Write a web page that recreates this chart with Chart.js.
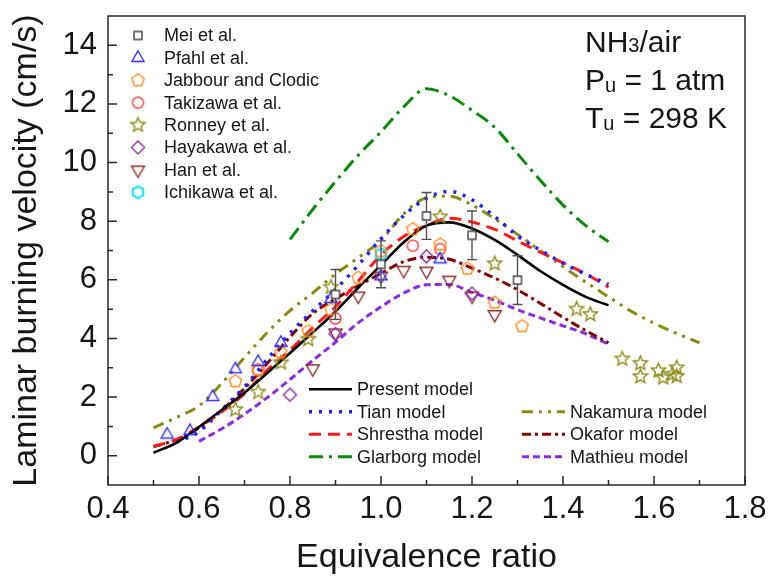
<!DOCTYPE html>
<html>
<head>
<meta charset="utf-8">
<script src="https://cdn.jsdelivr.net/npm/chart.js@4/dist/chart.umd.min.js"></script>
<style>
  html, body { margin: 0; padding: 0; background: #fff; }
  canvas { display: block; }
</style>
</head>
<body>
<canvas id="c" width="771" height="582"></canvas>
<script>
// ---- Model predictions: laminar burning velocity (cm/s) vs equivalence ratio ----
const phiModel = [0.50,0.55,0.60,0.65,0.70,0.75,0.80,0.85,0.90,0.95,1.00,1.05,1.10,1.15,1.20,1.25,1.30,1.35,1.40,1.45,1.50];
const presentModel  = [0.10,0.44,0.98,1.56,2.15,2.82,3.50,4.20,4.92,5.73,6.50,7.28,7.85,7.96,7.75,7.36,6.85,6.30,5.83,5.42,5.13];
const shresthaModel = [0.32,0.55,0.98,1.50,2.12,2.92,3.60,4.37,5.08,5.96,6.85,7.48,7.85,8.10,7.97,7.72,7.33,6.94,6.58,6.20,5.75];
const okaforModel   = [0.30,0.55,0.95,1.55,2.30,3.15,4.05,4.85,5.35,5.80,6.22,6.62,6.77,6.70,6.40,6.06,5.66,5.20,4.72,4.27,3.85];

const phiTian = [0.55,0.60,0.65,0.70,0.75,0.80,0.85,0.90,0.95,1.00,1.05,1.10,1.15,1.20,1.25,1.30,1.35,1.40,1.45,1.50];
const tianModel = [0.45,0.82,1.57,2.35,3.29,4.18,4.94,5.67,6.50,7.40,8.19,8.78,9.02,8.73,8.16,7.50,7.01,6.57,6.19,5.85];

const phiMathieu = [0.60,0.65,0.70,0.75,0.80,0.85,0.90,0.95,1.00,1.05,1.10,1.15,1.20,1.25,1.30,1.35,1.40,1.45,1.50];
const mathieuModel = [0.49,0.92,1.42,1.98,2.60,3.25,3.87,4.53,5.08,5.55,5.83,5.84,5.57,5.30,4.98,4.70,4.43,4.16,3.80];

const phiGlarborg = [0.80,0.85,0.90,0.95,1.00,1.05,1.10,1.15,1.20,1.25,1.30,1.35,1.40,1.45,1.50];
const glarborgModel = [7.38,8.40,9.35,10.25,11.05,11.90,12.52,12.28,11.78,11.20,10.30,9.40,8.55,7.85,7.30];

const phiNakamura = [0.50,0.55,0.60,0.65,0.70,0.75,0.80,0.85,0.90,0.95,1.00,1.05,1.10,1.15,1.20,1.25,1.30,1.35,1.40,1.45,1.50,1.55,1.60,1.65,1.70];
const nakamuraModel = [0.95,1.30,1.70,2.47,3.35,4.20,4.95,5.55,6.20,6.75,7.35,8.25,8.80,8.85,8.55,8.08,7.55,7.00,6.45,5.92,5.42,4.93,4.52,4.17,3.85];

// ---- Measurements ----
const meiPhi = [0.90,1.00,1.10,1.20,1.30];
const meiV   = [5.50,6.53,8.18,7.52,5.99];
const meiErr = [0.85,0.80,0.80,0.83,0.83];

const pfahlPhi = [0.53,0.58,0.63,0.68,0.73,0.78,0.89,1.00,1.13];
const pfahlV   = [0.72,0.84,2.00,2.95,3.20,3.85,5.35,6.12,6.70];

const jabbourPhi = [0.68,0.73,0.78,0.84,0.89,0.95,1.00,1.07,1.13,1.19,1.25,1.31];
const jabbourV   = [2.54,2.94,3.53,4.25,4.99,6.07,6.98,7.73,7.21,6.38,5.22,4.42];

const takizawaPhi = [0.73,0.90,1.07,1.13];
const takizawaV   = [2.90,4.68,7.16,7.05];

const ronneyPhi = [0.68,0.73,0.78,0.84,0.89,1.13,1.25,1.43,1.46,1.53,1.57,1.57,1.61,1.62,1.65,1.65,1.64];
const ronneyV   = [1.57,2.17,3.17,3.97,5.75,8.15,6.55,5.00,4.82,3.30,3.15,2.70,2.90,2.66,3.00,2.71,2.78];

const hayakawaPhi = [0.80,0.90,1.10,1.20];
const hayakawaV   = [2.08,4.15,6.80,5.53];

const hanPhi = [0.85,0.90,0.95,1.00,1.05,1.10,1.15,1.20,1.25];
const hanV   = [2.97,4.19,5.45,6.13,6.33,6.30,5.99,5.45,4.82];

const ichikawaPhi = [1.00];
const ichikawaV   = [6.87];

// ---- Axis ticks ----
const xTickLabels = [0.4,0.6,0.8,1.0,1.2,1.4,1.6,1.8];
const xMinorTicks = [0.5,0.7,0.9,1.1,1.3,1.5,1.7];
const yTickLabels = [0,2,4,6,8,10,12,14];
const yMinorTicks = [1,3,5,7,9,11,13];

const FONT = '"Liberation Sans", Arial, Helvetica, sans-serif';
const TEXT = '#161616';

function pts(xs, ys) { return xs.map((x, i) => ({ x: x, y: ys[i] })); }

// Open outline marker drawn to a small canvas, used as a point style
function marker(shape, color, r, lw) {
  const pad = Math.ceil(lw) + 1;
  const s = Math.ceil(2 * r + 2 * pad);
  const cv = document.createElement('canvas');
  cv.width = s; cv.height = s;
  const g = cv.getContext('2d');
  const c = s / 2;
  g.strokeStyle = color;
  g.lineWidth = lw;
  g.lineJoin = 'miter';
  g.beginPath();
  const poly = (n, rad, rot) => {
    for (let i = 0; i < n; i++) {
      const a = rot + i * 2 * Math.PI / n;
      const px = c + rad * Math.cos(a), py = c + rad * Math.sin(a);
      if (i) g.lineTo(px, py); else g.moveTo(px, py);
    }
    g.closePath();
  };
  switch (shape) {
    case 'square': g.rect(c - r, c - r, 2 * r, 2 * r); break;
    case 'triangle': poly(3, r, -Math.PI / 2); break;
    case 'triangleDown': poly(3, r, Math.PI / 2); break;
    case 'pentagon': poly(5, r, -Math.PI / 2); break;
    case 'hexagon': poly(6, r, -Math.PI / 2); break;
    case 'diamond': poly(4, r, -Math.PI / 2); break;
    case 'circle': g.arc(c, c, r, 0, 2 * Math.PI); break;
    case 'star':
      for (let i = 0; i < 10; i++) {
        const rad = i % 2 ? r * 0.45 : r;
        const a = -Math.PI / 2 + i * Math.PI / 5;
        const px = c + rad * Math.cos(a), py = c + rad * Math.sin(a);
        if (i) g.lineTo(px, py); else g.moveTo(px, py);
      }
      g.closePath();
      break;
  }
  if (shape === 'square') { g.fillStyle = '#fff'; g.fill(); }
  g.stroke();
  return cv;
}

function measured(label, xs, ys, shape, color, r, lw) {
  return {
    type: 'scatter', label: label, data: pts(xs, ys),
    pointStyle: marker(shape, color, r, lw || 1.4), pointRadius: r,
    borderColor: color, backgroundColor: 'transparent', kind: 'marker'
  };
}

function model(label, xs, ys, color, dash, width) {
  return {
    type: 'line', label: label, data: pts(xs, ys),
    borderColor: color, borderWidth: width || 3, borderDash: dash,
    pointRadius: 0, fill: false, cubicInterpolationMode: 'monotone',
    borderCapStyle: 'butt', kind: 'line'
  };
}

const datasets = [
  measured('Mei et al.', meiPhi, meiV, 'square', '#454545', 4, 1.4),
  measured('Pfahl et al.', pfahlPhi, pfahlV, 'triangle', '#3030ff', 7),
  measured('Jabbour and Clodic', jabbourPhi, jabbourV, 'pentagon', '#ff8a1e', 6.5),
  measured('Takizawa et al.', takizawaPhi, takizawaV, 'circle', '#ff3a3a', 5.5),
  measured('Ronney et al.', ronneyPhi, ronneyV, 'star', '#8c8c1a', 7.5),
  measured('Hayakawa et al.', hayakawaPhi, hayakawaV, 'diamond', '#8e2fa0', 6.5),
  measured('Han et al.', hanPhi, hanV, 'triangleDown', '#8c2b2b', 7.5),
  measured('Ichikawa et al.', ichikawaPhi, ichikawaV, 'hexagon', '#22e2ff', 6, 2.2),
  model('Present model', phiModel, presentModel, '#000000', [], 2.6),
  model('Tian model', phiTian, tianModel, '#1d1dff', [3, 7], 3.5),
  model('Shrestha model', phiModel, shresthaModel, '#ff1a1a', [12, 7], 3),
  model('Glarborg model', phiGlarborg, glarborgModel, '#0a8a0a', [14, 6, 3, 6], 3),
  model('Nakamura model', phiNakamura, nakamuraModel, '#8a8a12', [11, 6, 3, 6, 3, 6], 3),
  model('Okafor model', phiModel, okaforModel, '#800000', [9, 4, 3, 4], 3),
  model('Mathieu model', phiMathieu, mathieuModel, '#8a2be2', [7, 4], 3)
];

// Error bars on the Mei et al. squares
const errorBars = {
  id: 'errorBars',
  afterDatasetsDraw(chart) {
    const { ctx, scales: { x, y } } = chart;
    ctx.save();
    ctx.strokeStyle = '#505050';
    ctx.lineWidth = 1.4;
    ctx.beginPath();
    meiPhi.forEach((p, i) => {
      const px = x.getPixelForValue(p);
      const yc = y.getPixelForValue(meiV[i]);
      const yt = y.getPixelForValue(meiV[i] + meiErr[i]);
      const yb = y.getPixelForValue(meiV[i] - meiErr[i]);
      ctx.moveTo(px, yt); ctx.lineTo(px, yc - 4.5);
      ctx.moveTo(px, yc + 4.5); ctx.lineTo(px, yb);
      ctx.moveTo(px - 5, yt); ctx.lineTo(px + 5, yt);
      ctx.moveTo(px - 5, yb); ctx.lineTo(px + 5, yb);
    });
    ctx.stroke();
    ctx.restore();
  }
};

// Plot frame with inward major and minor tick marks
const frame = {
  id: 'frame',
  afterDraw(chart) {
    const { ctx, chartArea: a, scales: { x, y } } = chart;
    ctx.save();
    ctx.strokeStyle = '#2a2a2a';
    ctx.lineWidth = 1.5;
    ctx.strokeRect(a.left, a.top, a.right - a.left, a.bottom - a.top);
    ctx.beginPath();
    xTickLabels.forEach(v => { const p = x.getPixelForValue(v); ctx.moveTo(p, a.bottom); ctx.lineTo(p, a.bottom - 9); });
    xMinorTicks.forEach(v => { const p = x.getPixelForValue(v); ctx.moveTo(p, a.bottom); ctx.lineTo(p, a.bottom - 5); });
    yTickLabels.forEach(v => { const p = y.getPixelForValue(v); ctx.moveTo(a.left, p); ctx.lineTo(a.left + 9, p); });
    yMinorTicks.forEach(v => { const p = y.getPixelForValue(v); ctx.moveTo(a.left, p); ctx.lineTo(a.left + 5, p); });
    ctx.stroke();
    ctx.restore();
  }
};

// Two legends: measurement symbols (upper left) and model line styles (lower middle)
const legends = {
  id: 'legends',
  afterDraw(chart) {
    const ctx = chart.ctx;
    const ds = chart.data.datasets;
    ctx.save();
    ctx.font = '18px ' + FONT;
    ctx.fillStyle = TEXT;
    ctx.textBaseline = 'middle';
    ctx.textAlign = 'left';
    const marks = ds.filter(d => d.kind === 'marker');
    marks.forEach((d, i) => {
      const cy = 35.5 + i * 22.4;
      const img = d.pointStyle;
      ctx.drawImage(img, 138 - img.width / 2, cy - img.height / 2);
      ctx.fillText(d.label, 164, cy + 1);
    });
    const lines = ds.filter(d => d.kind === 'line');
    const slots = [
      [309, 352, 357, 389.3], [309, 352, 357, 411.8], [309, 352, 357, 434.3], [309, 352, 357, 456.8],
      [522, 565, 570, 411.8], [522, 565, 570, 434.3], [522, 565, 570, 456.8]
    ];
    lines.forEach((d, i) => {
      const [x1, x2, tx, cy] = slots[i];
      ctx.save();
      ctx.strokeStyle = d.borderColor;
      ctx.lineWidth = d.borderWidth;
      ctx.setLineDash(d.borderDash || []);
      ctx.beginPath();
      ctx.moveTo(x1, cy); ctx.lineTo(x2, cy);
      ctx.stroke();
      ctx.restore();
      ctx.fillText(d.label, tx, cy + 1);
    });
    ctx.restore();
  }
};

// Mixture and conditions, with subscripts
const conditions = {
  id: 'conditions',
  afterDraw(chart) {
    const ctx = chart.ctx;
    ctx.save();
    ctx.fillStyle = TEXT;
    ctx.textBaseline = 'alphabetic';
    ctx.textAlign = 'left';
    const big = '30px ' + FONT, small = '20px ' + FONT;
    const rows = [
      { y: 52, parts: [['NH', big, 0], ['3', small, 0], ['/air', big, 0]] },
      { y: 90, parts: [['P', big, 0], ['u', small, 2], [' = 1 atm', big, 0]] },
      { y: 128, parts: [['T', big, 0], ['u', small, 2], [' = 298 K', big, 0]] }
    ];
    rows.forEach(r => {
      let x = 585;
      r.parts.forEach(([t, f, dy]) => {
        ctx.font = f;
        ctx.fillText(t, x, r.y + dy);
        x += ctx.measureText(t).width;
      });
    });
    ctx.restore();
  }
};

new Chart(document.getElementById('c'), {
  type: 'scatter',
  data: { datasets: datasets },
  plugins: [errorBars, frame, legends, conditions],
  options: {
    responsive: false,
    animation: false,
    devicePixelRatio: 1,
    layout: { padding: { left: 0, top: 16, right: 26, bottom: 0 } },
    plugins: { legend: { display: false }, tooltip: { enabled: false } },
    scales: {
      x: {
        type: 'linear', min: 0.4, max: 1.8,
        afterBuildTicks: s => { s.ticks = xTickLabels.map(v => ({ value: v })); },
        afterFit: s => { s.height = 97; s.paddingLeft = 0; s.paddingRight = 0; },
        grid: { display: false, drawTicks: false },
        border: { display: false },
        ticks: {
          padding: 6, color: TEXT, maxRotation: 0, autoSkip: false,
          font: { family: FONT, size: 31 },
          callback: v => Number(v).toFixed(1)
        },
        title: {
          display: true, text: 'Equivalence ratio', color: TEXT,
          font: { family: FONT, size: 34 }, padding: { top: 0, bottom: 4 }
        }
      },
      y: {
        type: 'linear', min: -1, max: 15,
        afterBuildTicks: s => { s.ticks = yTickLabels.map(v => ({ value: v })); },
        afterFit: s => { s.width = 108; s.paddingTop = 0; s.paddingBottom = 0; },
        grid: { display: false, drawTicks: false },
        border: { display: false },
        ticks: {
          padding: 11, color: TEXT, autoSkip: false,
          font: { family: FONT, size: 31 }
        },
        title: {
          display: true, text: 'Laminar burning velocity (cm/s)', color: TEXT,
          font: { family: FONT, size: 34 }, padding: { top: 6, bottom: 0 }
        }
      }
    }
  }
});
</script>
</body>
</html>
